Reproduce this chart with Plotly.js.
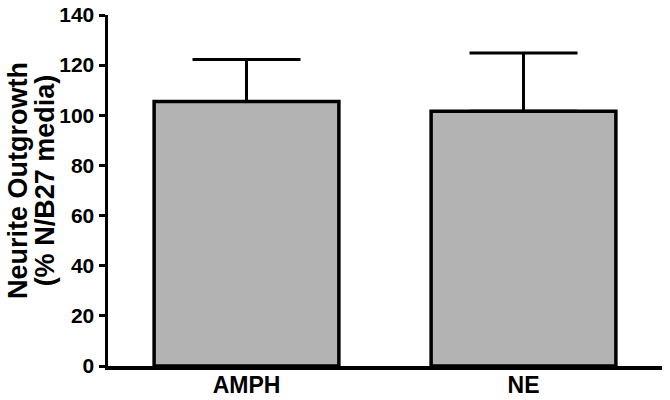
<!DOCTYPE html>
<html>
<head>
<meta charset="utf-8">
<script src="https://cdn.plot.ly/plotly-3.0.1.min.js"></script>
<style>html,body{margin:0;padding:0;background:#fff;}#chart{width:670px;height:400px;}</style>
</head>
<body>
<div id="chart"></div>
<script>
const categories = ["AMPH", "NE"];
const means = [105.5, 101.6];
const sem = [16.8, 23.2];
const yTicks = [0, 20, 40, 60, 80, 100, 120, 140];
const yTitleLines = ["Neurite Outgrowth", "(% N/B27 media)"];

const fontFam = "'Liberation Sans', Arial, sans-serif";
const b = s => "<b>" + s + "</b>";

const trace = {
  type: "bar",
  x: categories,
  y: means,
  marker: { color: "#b3b3b3", line: { color: "#000", width: 3.5 } },
  error_y: {
    type: "data",
    symmetric: false,
    array: sem,
    arrayminus: sem.map(() => 0),
    color: "#000",
    thickness: 3,
    width: 54
  },
  hoverinfo: "none"
};

const titleX = [-0.1625, -0.113];
const layout = {
  width: 670,
  height: 400,
  margin: { l: 108, r: 8, t: 15, b: 34 },
  paper_bgcolor: "#fff",
  plot_bgcolor: "#fff",
  showlegend: false,
  bargap: 0.333,
  font: { family: fontFam, color: "#000" },
  xaxis: {
    type: "category",
    range: [-0.5, 1.5],
    tickvals: categories,
    ticktext: categories.map(b),
    showline: true,
    linecolor: "#000",
    linewidth: 3.5,
    ticks: "",
    ticklabelstandoff: -4,
    showgrid: false,
    zeroline: false,
    tickfont: { family: fontFam, size: 23, color: "#000" },
    fixedrange: true
  },
  yaxis: {
    range: [0, 140],
    tickvals: yTicks,
    ticktext: yTicks.map(v => b(String(v))),
    showline: true,
    linecolor: "#000",
    linewidth: 3.5,
    ticks: "outside",
    ticklen: 6,
    tickwidth: 3,
    tickcolor: "#000",
    showgrid: false,
    zeroline: false,
    tickfont: { family: fontFam, size: 21, color: "#000" },
    fixedrange: true
  },
  annotations: yTitleLines.map((t, i) => ({
    text: b(t),
    xref: "paper",
    yref: "paper",
    x: titleX[i],
    y: 0.53,
    xanchor: "center",
    yanchor: "middle",
    textangle: -90,
    showarrow: false,
    font: { family: fontFam, size: 27, color: "#000" }
  }))
};

Plotly.newPlot("chart", [trace], layout, { displayModeBar: false, staticPlot: true });
</script>
</body>
</html>
